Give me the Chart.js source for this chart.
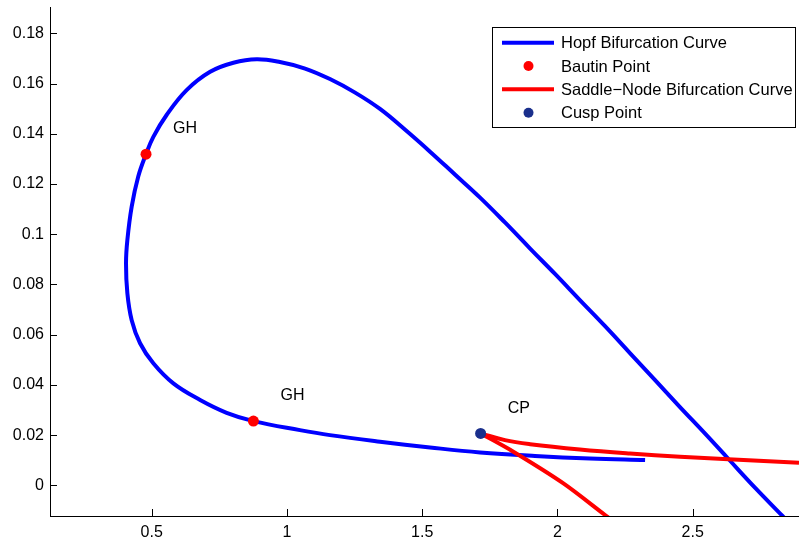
<!DOCTYPE html>
<html>
<head>
<meta charset="utf-8">
<script src="https://cdn.jsdelivr.net/npm/chart.js@4.4.1/dist/chart.umd.min.js"></script>
<style>
  html, body { margin: 0; padding: 0; background: #fff; }
</style>
</head>
<body>
<canvas id="chart" width="799" height="544"></canvas>
<script>
// Hopf curve, traced from its right end, left along the bottom, round the loop and down
const hopfX = [2.324, 2.120, 1.917, 1.714, 1.529, 1.344, 1.159, 1.048, 0.876, 0.777, 0.679, 0.580,
  0.506, 0.457, 0.426, 0.410, 0.405, 0.410, 0.426, 0.450, 0.479, 0.506, 0.555, 0.629, 0.716,
  0.802, 0.888, 0.974, 1.067, 1.159, 1.252, 1.344, 1.436, 1.529, 1.621, 1.714, 1.806, 1.899,
  1.991, 2.083, 2.176, 2.268, 2.361, 2.453, 2.546, 2.634, 2.732, 2.832, 2.893];
const hopfY = [0.0101, 0.0107, 0.0117, 0.0131, 0.0151, 0.0174, 0.0200, 0.0220, 0.0256, 0.0289, 0.0340, 0.0406,
  0.0486, 0.0566, 0.0658, 0.0765, 0.0884, 0.0977, 0.1110, 0.1229, 0.1319, 0.1388, 0.1475, 0.1574, 0.1647,
  0.1683, 0.1697, 0.1686, 0.1660, 0.1618, 0.1564, 0.1499, 0.1417, 0.1329, 0.1238, 0.1146, 0.1047, 0.0943,
  0.0842, 0.0738, 0.0634, 0.0527, 0.0419, 0.0312, 0.0206, 0.0103, -0.0011, -0.0122, -0.0191];

// Generalized Hopf (Bautin) points
const bautinX = [0.479, 0.876];
const bautinY = [0.1319, 0.0256];

// Saddle-node curve, two branches leaving the cusp
const snUpperX = [1.716, 1.806, 1.899, 2.083, 2.268, 2.453, 2.632, 2.893, 2.950];
const snUpperY = [0.0207, 0.0180, 0.0164, 0.0143, 0.0127, 0.0114, 0.0104, 0.0090, 0.0088];
const snLowerX = [1.716, 1.837, 2.022, 2.176, 2.250];
const snLowerY = [0.0207, 0.0134, 0.0008, -0.0118, -0.0178];

const cuspX = [1.716];
const cuspY = [0.0207];

// Text labels next to the special points
const noteText = ['GH', 'GH', 'CP'];
const noteX = [0.579, 0.976, 1.816];
const noteY = [0.1419, 0.0356, 0.0307];

const xTicks = [0.5, 1, 1.5, 2, 2.5];
const yTicks = [0, 0.02, 0.04, 0.06, 0.08, 0.1, 0.12, 0.14, 0.16, 0.18];

const FONT = '"Liberation Sans", Arial, Helvetica, sans-serif';
Chart.defaults.font.family = FONT;
Chart.defaults.font.size = 16;
Chart.defaults.color = '#000';

const pts = (xs, ys) => xs.map((x, i) => ({ x, y: ys[i] }));
const fmt = v => String(+v.toFixed(4));

const BLUE = '#0000ff';
const RED = '#ff0000';
const NAVY = '#1a2f8c';

const datasets = [
  { label: 'Hopf Bifurcation Curve', data: pts(hopfX, hopfY), showLine: true, borderColor: BLUE,
    borderWidth: 4, pointRadius: 0, tension: 0.4, clip: 0, order: 5 },
  { label: 'Bautin Point', data: pts(bautinX, bautinY), showLine: false, backgroundColor: RED,
    borderWidth: 0, pointRadius: 5.5, order: 2 },
  { label: 'Saddle\u2212Node Bifurcation Curve', data: pts(snUpperX, snUpperY), showLine: true, borderColor: RED,
    borderWidth: 4, pointRadius: 0, tension: 0.4, clip: 0, order: 4 },
  { label: '', data: pts(snLowerX, snLowerY), showLine: true, borderColor: RED,
    borderWidth: 4, pointRadius: 0, tension: 0.3, clip: 0, order: 4 },
  { label: 'Cusp Point', data: pts(cuspX, cuspY), showLine: false, backgroundColor: NAVY,
    borderWidth: 0, pointRadius: 5.5, order: 1 }
];

// tick marks pointing into the plot, MATLAB style
const innerTicks = {
  id: 'innerTicks',
  beforeDatasetsDraw(chart) {
    const { ctx, chartArea: a, scales: { x, y } } = chart;
    const len = 7;
    ctx.save();
    ctx.strokeStyle = '#000';
    ctx.lineWidth = 1;
    ctx.beginPath();
    xTicks.forEach(v => {
      const px = Math.round(x.getPixelForValue(v)) + 0.5;
      ctx.moveTo(px, a.bottom);
      ctx.lineTo(px, a.bottom - len);
    });
    yTicks.forEach(v => {
      const py = Math.round(y.getPixelForValue(v)) + 0.5;
      ctx.moveTo(a.left, py);
      ctx.lineTo(a.left + len, py);
    });
    ctx.stroke();
    ctx.restore();
  }
};

const notes = {
  id: 'notes',
  afterDatasetsDraw(chart) {
    const { ctx, scales: { x, y } } = chart;
    ctx.save();
    ctx.font = '16px ' + FONT;
    ctx.fillStyle = '#000';
    ctx.textAlign = 'left';
    ctx.textBaseline = 'middle';
    noteText.forEach((t, i) => ctx.fillText(t, x.getPixelForValue(noteX[i]), y.getPixelForValue(noteY[i])));
    ctx.restore();
  }
};

// boxed legend in the upper right of the axes
const boxLegend = {
  id: 'boxLegend',
  afterDraw(chart) {
    const { ctx, chartArea: a } = chart;
    const entries = [0, 1, 2, 4].map(i => chart.data.datasets[i]);
    const w = 303, h = 100;
    const left = a.right - 4 - w, top = a.top + 20;
    const rowH = 23.33;
    ctx.save();
    ctx.fillStyle = '#fff';
    ctx.fillRect(left, top, w, h);
    ctx.strokeStyle = '#000';
    ctx.lineWidth = 1;
    ctx.strokeRect(Math.round(left) + 0.5, Math.round(top) + 0.5, w, h);
    ctx.font = '16.5px ' + FONT;
    ctx.textAlign = 'left';
    ctx.textBaseline = 'middle';
    entries.forEach((ds, i) => {
      const cy = top + 15.7 + i * rowH;
      if (ds.showLine) {
        ctx.strokeStyle = ds.borderColor;
        ctx.lineWidth = ds.borderWidth;
        ctx.beginPath();
        ctx.moveTo(left + 10, cy);
        ctx.lineTo(left + 62, cy);
        ctx.stroke();
      } else {
        ctx.fillStyle = ds.backgroundColor;
        ctx.beginPath();
        ctx.arc(left + 36.5, cy, 5, 0, Math.PI * 2);
        ctx.fill();
      }
      ctx.fillStyle = '#000';
      ctx.fillText(ds.label, left + 69, cy + 1);
    });
    ctx.restore();
  }
};

// keep the axes box fixed: no extra room for overhanging tick labels
const noOverhang = s => {
  s.paddingTop = 0;
  s.paddingBottom = 0;
  s.paddingLeft = 0;
  s.paddingRight = 0;
};

new Chart(document.getElementById('chart'), {
  type: 'scatter',
  data: { datasets },
  options: {
    responsive: false,
    animation: false,
    events: [],
    layout: { autoPadding: false, padding: { top: 7, right: 0, left: 0, bottom: 0 } },
    plugins: { legend: { display: false }, tooltip: { enabled: false } },
    scales: {
      x: {
        type: 'linear',
        min: 0.124,
        max: 2.893,
        grid: { display: false, drawTicks: false },
        border: { display: true, color: '#000', width: 1 },
        ticks: { padding: 7, maxRotation: 0, callback: v => fmt(v) },
        afterBuildTicks: s => { s.ticks = xTicks.map(v => ({ value: v })); },
        afterFit: s => { s.height = 28; noOverhang(s); }
      },
      y: {
        type: 'linear',
        min: -0.0122,
        max: 0.1905,
        grid: { display: false, drawTicks: false },
        border: { display: true, color: '#000', width: 1 },
        ticks: { padding: 6, callback: v => fmt(v) },
        afterBuildTicks: s => { s.ticks = yTicks.map(v => ({ value: v })); },
        afterFit: s => { s.width = 50; noOverhang(s); }
      }
    }
  },
  plugins: [innerTicks, notes, boxLegend]
});
</script>
</body>
</html>
